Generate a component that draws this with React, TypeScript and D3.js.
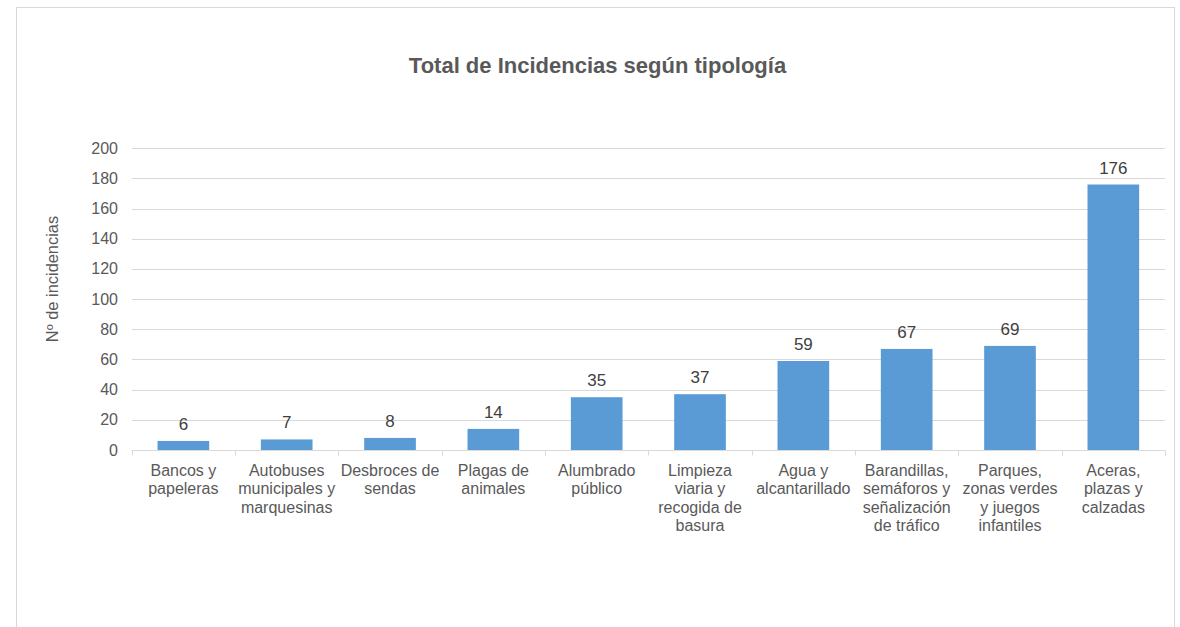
import { useEffect, useRef } from "react";
import * as d3 from "d3";

const categories = [
  ["Bancos y", "papeleras"],
  ["Autobuses", "municipales y", "marquesinas"],
  ["Desbroces de", "sendas"],
  ["Plagas de", "animales"],
  ["Alumbrado", "público"],
  ["Limpieza", "viaria y", "recogida de", "basura"],
  ["Agua y", "alcantarillado"],
  ["Barandillas,", "semáforos y", "señalización", "de tráfico"],
  ["Parques,", "zonas verdes", "y juegos", "infantiles"],
  ["Aceras,", "plazas y", "calzadas"],
];
const values = [6, 7, 8, 14, 35, 37, 59, 67, 69, 176];
const yTicks = [0, 20, 40, 60, 80, 100, 120, 140, 160, 180, 200];
const title = "Total de Incidencias según tipología";
const yTitle = "Nº de incidencias";

export default function App() {
  const svgRef = useRef<SVGSVGElement>(null);

  useEffect(() => {
    const svg = d3.select(svgRef.current);
    svg.selectAll("*").remove();

    const width = 1180;
    const height = 627;
    const left = 131.7, right = 1165, top = 148.3, bottom = 450;
    const font = "'Liberation Sans', Arial, sans-serif";

    svg.attr("width", width).attr("height", height).attr("viewBox", [0, 0, width, height]);

    svg.append("rect").attr("width", width).attr("height", height).attr("fill", "#fff");
    // chart frame
    svg.append("rect")
      .attr("x", 16.5).attr("y", 7.5)
      .attr("width", 1158).attr("height", 640)
      .attr("fill", "#fff").attr("stroke", "#d9d9d9");

    const ids = categories.map((_, i) => String(i));
    const x = d3.scaleBand().domain(ids).range([left, right]).paddingInner(0.5).paddingOuter(0.25);
    const xb = d3.scaleBand().domain(ids).range([left, right]);
    const y = d3.scaleLinear().domain([0, 200]).range([bottom, top]);

    // gridlines
    svg.append("g")
      .selectAll("line")
      .data(yTicks.filter(t => t > 0))
      .enter()
      .append("line")
      .attr("x1", left).attr("x2", right)
      .attr("y1", d => Math.round(y(d)) + 0.5).attr("y2", d => Math.round(y(d)) + 0.5)
      .attr("stroke", "#d9d9d9");

    // y tick labels
    svg.append("g")
      .selectAll("text")
      .data(yTicks)
      .enter()
      .append("text")
      .attr("x", 118)
      .attr("y", d => y(d) + 5.5)
      .attr("text-anchor", "end")
      .attr("font-family", font).attr("font-size", 16)
      .attr("fill", "#595959")
      .text(d => d);

    // bars
    svg.append("g")
      .selectAll("rect")
      .data(values)
      .enter()
      .append("rect")
      .attr("x", (_, i) => x(ids[i])!)
      .attr("y", d => y(d))
      .attr("width", x.bandwidth())
      .attr("height", d => bottom - y(d))
      .attr("fill", "#5b9bd5");

    // x axis line and ticks
    const axis = svg.append("g").attr("transform", `translate(0,${bottom + 0.5})`);
    axis.append("line").attr("x1", left).attr("x2", right).attr("stroke", "#d9d9d9");
    axis.selectAll("line.tick")
      .data([...ids.map(id => xb(id)!), right])
      .enter()
      .append("line")
      .attr("class", "tick")
      .attr("x1", d => Math.round(d) + 0.5).attr("x2", d => Math.round(d) + 0.5)
      .attr("y1", 0).attr("y2", 5)
      .attr("stroke", "#d9d9d9");

    // value labels
    svg.append("g")
      .selectAll("text")
      .data(values)
      .enter()
      .append("text")
      .attr("x", (_, i) => x(ids[i])! + x.bandwidth() / 2)
      .attr("y", d => y(d) - 11)
      .attr("text-anchor", "middle")
      .attr("font-family", font).attr("font-size", 17)
      .attr("fill", "#404040")
      .text(d => d);

    // category labels
    const cat = svg.append("g")
      .selectAll("text")
      .data(categories)
      .enter()
      .append("text")
      .attr("text-anchor", "middle")
      .attr("font-family", font).attr("font-size", 16)
      .attr("fill", "#595959");
    cat.each(function (lines, i) {
      const cx = xb(ids[i])! + xb.bandwidth() / 2;
      d3.select(this)
        .selectAll("tspan")
        .data(lines)
        .enter()
        .append("tspan")
        .attr("x", cx)
        .attr("y", (_, j) => 475.5 + j * 18.6)
        .text(d => d);
    });

    // y title
    svg.append("text")
      .attr("transform", `translate(57.5,279) rotate(-90)`)
      .attr("text-anchor", "middle")
      .attr("font-family", font).attr("font-size", 16.4)
      .attr("fill", "#595959")
      .text(yTitle);

    // title
    svg.append("text")
      .attr("x", 597.5).attr("y", 72.5)
      .attr("text-anchor", "middle")
      .attr("font-family", font).attr("font-size", 22).attr("font-weight", "bold")
      .attr("fill", "#595959")
      .text(title);
  }, []);

  return <svg ref={svgRef} style={{ position: "absolute", left: 0, top: 0 }} />;
}
